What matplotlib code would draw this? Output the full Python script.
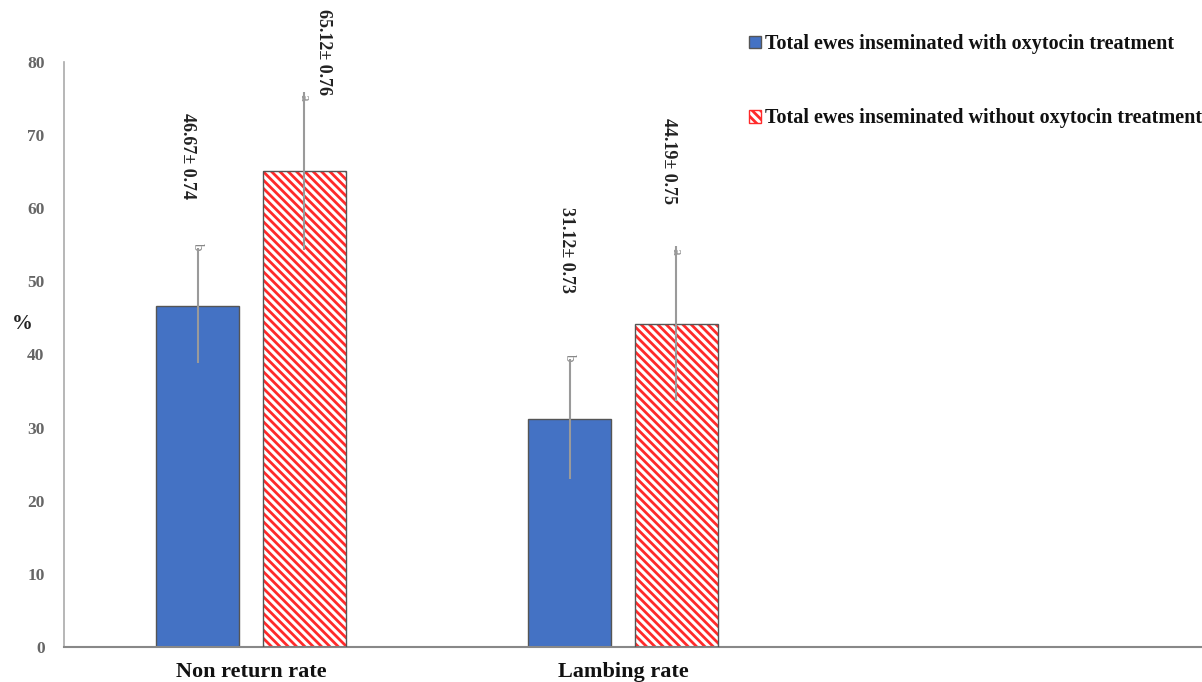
import matplotlib
matplotlib.use("Agg")
import matplotlib.pyplot as plt
from matplotlib.patches import Patch
import numpy as np

categories = ["Non return rate", "Lambing rate"]
series_names = ["Total ewes inseminated with oxytocin treatment",
                "Total ewes inseminated without oxytocin treatment"]
with_oxy = [46.67, 31.12]
without_oxy = [65.12, 44.19]
with_err = [7.9, 8.2]
without_err = [10.8, 10.6]
with_labels = ["46.67\u00b1 0.74", "31.12\u00b1 0.73"]
without_labels = ["65.12\u00b1 0.76", "44.19\u00b1 0.75"]
with_letters = ["b", "b"]
without_letters = ["a", "a"]
yticks = [0, 10, 20, 30, 40, 50, 60, 70, 80]

plt.rcParams['font.family'] = ['Liberation Serif', 'DejaVu Serif']
plt.rcParams['hatch.linewidth'] = 2.0

fig = plt.figure(figsize=(12.02, 6.82), dpi=100)
ax = fig.add_axes([64/1202, 35/682, 1 - 64/1202, 585/682])

x = np.arange(len(categories))
w = 0.223
off = 0.143
blue = "#4472C4"
red = "#FF2A2A"
edge = "#555555"

ax.bar(x - off, with_oxy, w, color=blue, edgecolor=edge, linewidth=1.0, zorder=2)
ax.bar(x + off, without_oxy, w, color="white", edgecolor=red, hatch="\\\\\\\\", linewidth=0, zorder=2)
ax.bar(x + off, without_oxy, w, color="none", edgecolor=edge, linewidth=1.0, zorder=3)

ax.errorbar(x - off, with_oxy, yerr=with_err, fmt="none", ecolor="#9a9a9a", elinewidth=1.5, capsize=0, zorder=4)
ax.errorbar(x + off, without_oxy, yerr=without_err, fmt="none", ecolor="#9a9a9a", elinewidth=1.5, capsize=0, zorder=4)

# annotation layout (label top heights and x shifts)
with_label_top = [73.0, 60.2]
without_label_top = [87.3, 72.4]
with_dx = [-0.027, -0.008]
without_dx = [0.051, -0.022]

for i in range(len(categories)):
    ax.text(x[i] - off + with_dx[i], with_label_top[i], with_labels[i], rotation=270,
            ha="center", va="top", fontsize=13, fontweight="bold", color="#222222", clip_on=False)
    ax.text(x[i] + off + without_dx[i], without_label_top[i], without_labels[i], rotation=270,
            ha="center", va="top", fontsize=13, fontweight="bold", color="#222222", clip_on=False)
    ax.text(x[i] - off, with_oxy[i] + with_err[i] - 0.2, with_letters[i], rotation=270,
            ha="center", va="bottom", fontsize=11, color="#888888")
    ax.text(x[i] + off, without_oxy[i] + without_err[i] - 1.2, without_letters[i], rotation=270,
            ha="center", va="bottom", fontsize=11, color="#888888")

ax.set_xlim(-0.503, 2.556)
ax.set_ylim(0, 80)
ax.set_yticks(yticks)
ax.set_yticklabels([str(t) for t in yticks], fontsize=12.5, fontweight="bold", color="#666666")
ax.set_xticks(x)
ax.set_xticklabels(categories, fontsize=16, fontweight="bold", color="#111111")
ax.tick_params(axis="both", length=0)
ax.tick_params(axis="y", pad=14)
ax.tick_params(axis="x", pad=11)
for s in ["top", "right"]:
    ax.spines[s].set_visible(False)
ax.spines["left"].set_color("#aaaaaa")
ax.spines["bottom"].set_color("#888888")
ax.spines["left"].set_linewidth(1.2)
ax.spines["bottom"].set_linewidth(1.5)

ax.set_ylabel("%", rotation=0, fontsize=15, fontweight="bold", color="#222222")
ax.yaxis.set_label_coords(-0.037, 0.535)

handles = [Patch(facecolor=blue, edgecolor=edge, linewidth=1.0),
           Patch(facecolor="white", edgecolor=red, hatch="\\\\\\\\", linewidth=1.0)]
leg = fig.legend(handles, series_names, loc="upper left", bbox_to_anchor=(731/1202, 1 - 16/682),
                 frameon=False, handlelength=0.6, handleheight=0.6, handletextpad=0.2,
                 labelspacing=2.7, prop={"family": "Liberation Serif", "weight": "bold", "size": 14.5})
for t in leg.get_texts():
    t.set_color("#111111")

fig.savefig("out.png", dpi=100)
